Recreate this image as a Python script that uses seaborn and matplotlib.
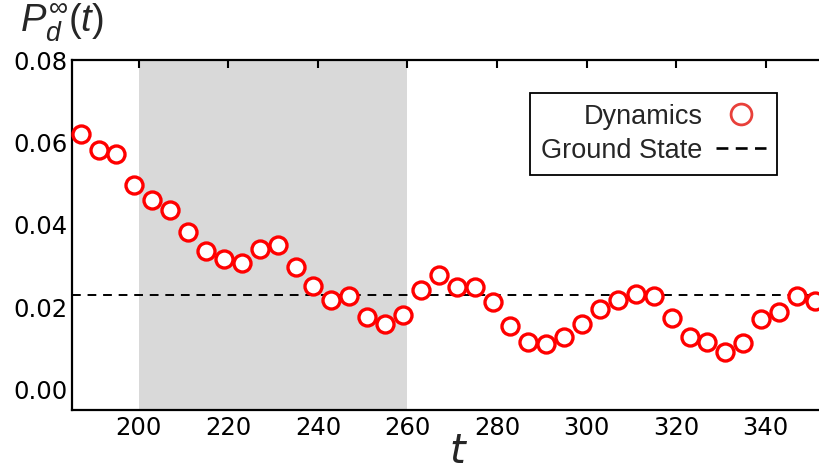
import numpy as np
import pandas as pd
import matplotlib
matplotlib.use("Agg")
import matplotlib.pyplot as plt
import seaborn as sns
from matplotlib.lines import Line2D

t_values = [187, 191, 195, 199, 203, 207, 211, 215, 219, 223, 227, 231, 235, 239,
            243, 247, 251, 255, 259, 263, 267, 271, 275, 279, 283, 287, 291, 295,
            299, 303, 307, 311, 315, 319, 323, 327, 331, 335, 339, 343, 347, 351]
p_values = [0.0620, 0.0582, 0.0571, 0.0497, 0.0459, 0.0436, 0.0383, 0.0337, 0.0318,
            0.0306, 0.0341, 0.0350, 0.0298, 0.0252, 0.0218, 0.0226, 0.0175, 0.0158,
            0.0180, 0.0242, 0.0277, 0.0248, 0.0248, 0.0212, 0.0155, 0.0115, 0.0110,
            0.0127, 0.0159, 0.0196, 0.0217, 0.0232, 0.0228, 0.0174, 0.0128, 0.0116,
            0.0090, 0.0113, 0.0170, 0.0189, 0.0228, 0.0216]
ground_state = 0.0230
shade_range = [200, 260]
x_ticks = [200, 220, 240, 260, 280, 300, 320, 340]
y_ticks = [0.00, 0.02, 0.04, 0.06, 0.08]

sns.set_style("white")
plt.rcParams['font.family'] = ['DejaVu Sans']
plt.rcParams['mathtext.fontset'] = 'custom'
plt.rcParams['mathtext.it'] = 'Liberation Sans:italic'
plt.rcParams['mathtext.rm'] = 'Liberation Sans'

fig = plt.figure(figsize=(8.2, 4.73), dpi=100)
# axes extends slightly past the right edge, so the right spine is clipped
ax = fig.add_axes([0.088, 0.133, 0.920, 0.74])

df = pd.DataFrame({"t": t_values, "P": p_values})
ax.axvspan(shade_range[0], shade_range[1], color="#d9d9d9", lw=0, zorder=0)
ax.axhline(ground_state, color="black", ls=(0, (4.5, 3.5)), lw=1.4, zorder=1)
sns.scatterplot(data=df, x="t", y="P", ax=ax, marker="o", s=150,
                facecolor="white", edgecolor="red", linewidth=2.4, zorder=3,
                clip_on=False)

ax.set_xlim(185.1, 353.6)
ax.set_ylim(-0.005, 0.08)
ax.set_xticks(x_ticks)
ax.set_yticks(y_ticks)
ax.set_yticklabels([f"{v:.2f}" for v in y_ticks])
for s in ax.spines.values():
    s.set_linewidth(1.6)
    s.set_color("black")
ax.tick_params(direction="in", length=6, width=1.5, top=True, right=True,
               labelsize=17.5, colors="black")
ax.tick_params(axis="y", pad=3)
ax.tick_params(axis="x", pad=4)

ax.set_xlabel("t", fontsize=29, fontstyle="italic", family="DejaVu Sans")
ax.xaxis.set_label_coords(0.511, -0.062, transform=ax.transAxes)
ax.xaxis.label.set_va("top")
ax.set_ylabel("")
fig.text(0.025, 0.997, r"$P_d^{\infty}(t)$", fontsize=27.5, ha="left", va="top")

handles = [Line2D([], [], marker="o", ls="none", markersize=15,
                  markerfacecolor="white", markeredgecolor="#e8403a", markeredgewidth=2),
           Line2D([], [], color="black", ls=(0, (4.5, 2.8)), lw=1.9)]
leg = ax.legend(handles, ["Dynamics", "Ground State"], markerfirst=False,
                loc="upper left", bbox_to_anchor=(0.607, 0.906),
                prop={"family": "Liberation Sans", "size": 19.5},
                frameon=True, fancybox=False, framealpha=1, edgecolor="black",
                handlelength=1.85, handletextpad=0.5, borderpad=0.4,
                labelspacing=0.3, borderaxespad=0)
leg.get_frame().set_linewidth(1.3)

fig.savefig("out.png", dpi=100)
